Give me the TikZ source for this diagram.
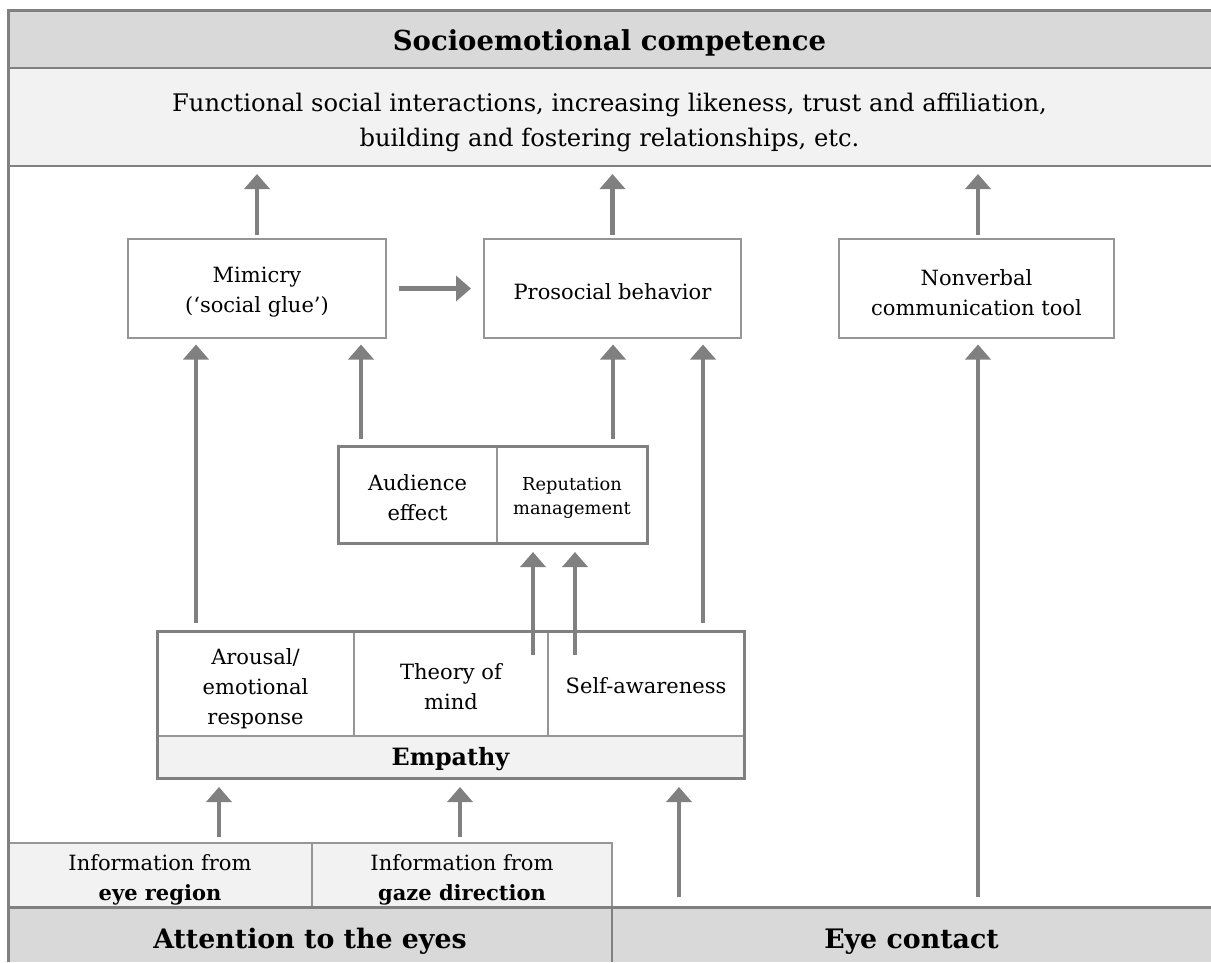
\documentclass[tikz,border=0pt]{standalone}
\usepackage{fontspec}
\setmainfont{DejaVu Serif}
\usetikzlibrary{arrows.meta,calc}
\definecolor{frm}{RGB}{128,128,128}
\definecolor{thin}{RGB}{150,150,150}
\definecolor{dk}{RGB}{217,217,217}
\definecolor{lt}{RGB}{242,242,242}
\begin{document}
\begin{tikzpicture}[x=1pt,y=-1pt,
  base/.style={inner sep=0pt,outer sep=0pt,align=center,font=\fontsize{21}{30}\selectfont},
  txt/.style={base},
  sbox/.style={base,draw=thin,line width=2pt,fill=white},
  cell/.style={base},
  band/.style={base,fill=#1},
  heavybox/.style={draw=frm,line width=3pt,inner sep=0pt,outer sep=0pt},
  arr/.style={draw=frm,line width=4.5pt,-{Triangle[width=25pt,length=15pt]}},
  heavy/.style={draw=frm,line width=3pt},
  mid/.style={draw=frm,line width=2pt},
  light/.style={draw=thin,line width=1.5pt},
  bigbold/.style={font=\bfseries\fontsize{26.8}{30}\selectfont},
]
\useasboundingbox (0,0) rectangle (1211,962);

% top bands
\node[band=dk, minimum width=1203pt, minimum height=58pt] (title) at (609.5,39) {};
\node[txt, font=\bfseries\fontsize{27.5}{32}\selectfont] (titleT) at ($(title.center)+(0,4)$) {Socioemotional competence};
\node[band=lt, minimum width=1203pt, minimum height=98pt] (sub) at (609.5,117) {};
\node[txt, font=\fontsize{24.2}{35}\selectfont] (subT) at ($(sub.center)+(0,5)$) {Functional social interactions, increasing likeness, trust and affiliation,\\building and fostering relationships, etc.};

% bottom bands
\node[band=lt, draw=thin, line width=1.5pt, minimum width=304pt, minimum height=64pt] (info1) at (160,875) {};
\node[txt] (info1T) at ($(info1.center)+(0,5)$) {Information from\\\textbf{eye region}};
\node[band=lt, draw=thin, line width=1.5pt, minimum width=300pt, minimum height=64pt] (info2) at (462,875) {};
\node[txt] (info2T) at ($(info2.center)+(0,5)$) {Information from\\\textbf{gaze direction}};
\node[band=dk, minimum width=604pt, minimum height=55pt] (att) at (310,934.5) {};
\node[txt, bigbold] (attT) at ($(att.center)+(0,7)$) {Attention to the eyes};
\node[band=dk, minimum width=599pt, minimum height=55pt] (eye) at (911.5,934.5) {};
\node[txt, bigbold] (eyeT) at ($(eye.center)+(0,7)$) {Eye contact};

% frame lines
\draw[heavy] (att.south west) -- (title.north west) -- (title.north east);
\draw[mid] (title.south west) -- (title.south east);
\draw[mid] (sub.south west) -- (sub.south east);
\draw[heavy] (att.north west) -- (eye.north east);
\draw[mid] (eye.north west) -- (eye.south west);

% upper boxes
\node[sbox, minimum width=258pt, minimum height=99pt] (mim) at (257,288.5) {};
\node[txt] (mimT) at ($(mim.center)+(0,3.5)$) {Mimicry\\(‘social glue’)};
\node[sbox, minimum width=257pt, minimum height=99pt] (pro) at (612.5,288.5) {};
\node[txt] (proT) at ($(pro.center)+(0,3)$) {Prosocial behavior};
\node[sbox, minimum width=275pt, minimum height=99pt] (nonv) at (976.5,288.5) {};
\node[txt] (nonvT) at ($(nonv.center)+(0,4)$) {Nonverbal\\communication tool};

% audience / reputation
\node[cell, minimum width=159pt, minimum height=97pt] (audC) at (417.5,494.5) {};
\node[txt] (audT) at ($(audC.center)+(0,3)$) {Audience\\effect};
\node[cell, minimum width=150pt, minimum height=97pt] (repC) at (572,494.5) {};
\node[txt, font=\fontsize{17.8}{24}\selectfont] (repT) at ($(repC.center)+(0,3)$) {Reputation\\management};
\draw[light] (audC.north east) -- (audC.south east);
\node[heavybox, minimum width=309pt, minimum height=97pt] (aud) at (492.5,494.5) {};

% empathy
\node[band=lt, minimum width=587pt, minimum height=42pt] (empL) at (450.5,757) {};
\node[txt, font=\bfseries\fontsize{23.8}{28}\selectfont] (empT) at ($(empL.center)+(0,2)$) {Empathy};
\node[cell, minimum width=197pt, minimum height=105pt] (aro) at (255.5,683.5) {};
\node[txt] (aroT) at ($(aro.center)+(0,5)$) {Arousal/\\emotional\\response};
\node[cell, minimum width=194pt, minimum height=105pt] (tom) at (451,683.5) {};
\node[txt] (tomT) at ($(tom.center)+(0,3)$) {Theory of\\mind};
\node[cell, minimum width=196pt, minimum height=105pt] (slf) at (646,683.5) {};
\node[txt] (slfT) at ($(slf.center)+(0,2)$) {Self-awareness};
\draw[light] (aro.north east) -- (aro.south east);
\draw[light] (tom.north east) -- (tom.south east);
\draw[light] (empL.north west) -- (empL.north east);
\node[heavybox, minimum width=587pt, minimum height=147pt] (emp) at (450.5,704.5) {};

% arrows
\draw[arr] ($(mim.north)+(0,-4)$) -- ($(mim.north |- sub.south)+(0,8)$);
\draw[arr] ($(pro.north)+(0,-4)$) -- ($(pro.north |- sub.south)+(0,8)$);
\draw[arr] ($(nonv.north)+(1.5,-4)$) -- ($(nonv.north |- sub.south)+(1.5,8)$);
\draw[arr] ($(mim.east)+(13,0)$) -- ($(pro.west)+(-13,0)$);
\draw[arr] ($(emp.north west)+(39,-8)$) -- ($(emp.north west |- mim.south)+(39,6.5)$);
\draw[arr] ($(aud.north west)+(23,-7)$) -- ($(aud.north west |- mim.south)+(23,6.5)$);
\draw[arr] ($(aud.north east)+(-34,-7)$) -- ($(aud.north east |- pro.south)+(-34,6.5)$);
\draw[arr] ($(emp.north east)+(-41,-8)$) -- ($(emp.north east |- pro.south)+(-41,6.5)$);
\draw[arr] ($(nonv.south |- eye.north)+(1.5,-10)$) -- ($(nonv.south)+(1.5,6.5)$);
\draw[arr] ($(tom.north east)+(-15,24)$) -- ($(tom.north east |- aud.south)+(-15,9)$);
\draw[arr] ($(slf.north west)+(27,24)$) -- ($(slf.north west |- aud.south)+(27,9)$);
\draw[arr] ($(info1.north)+(59,-6)$) -- ($(info1.north |- emp.south)+(59,9)$);
\draw[arr] ($(info2.north)+(-2,-6)$) -- ($(info2.north |- emp.south)+(-2,9)$);
\draw[arr] ($(eye.north west)+(67,-10)$) -- ($(eye.north west |- emp.south)+(67,9)$);
\end{tikzpicture}
\end{document}
